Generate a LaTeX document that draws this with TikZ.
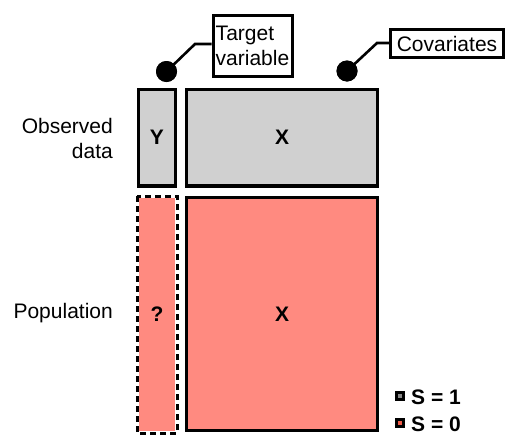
\documentclass[tikz,border=0pt]{standalone}
\usepackage{fontspec}
\setmainfont{Liberation Sans}
\definecolor{obsgray}{RGB}{208,208,208}
\definecolor{popred}{RGB}{255,138,128}
\definecolor{leggray}{RGB}{136,136,136}
\definecolor{legred}{RGB}{240,90,70}
\begin{document}
\begin{tikzpicture}[x=1pt,y=-1pt,
  font=\fontsize{21}{25}\selectfont,
  block/.style={draw=black, line width=3.3pt, inner sep=0pt, font=\fontsize{21}{25}\selectfont\bfseries},
  obsblock/.style={block, fill=obsgray},
  popblock/.style={block, fill=popred},
  callout/.style={draw=black, line width=3pt, inner sep=1pt, align=left},
  dotmark/.style={circle, fill=black, inner sep=0pt, minimum size=21pt},
  leader/.style={line width=2.6pt},
  legsq/.style={draw=black, line width=3pt, minimum size=7pt, inner sep=0pt},
  legtext/.style={anchor=west, inner sep=0pt, font=\fontsize{21}{25}\selectfont\bfseries},
  rowlabel/.style={anchor=east, inner sep=0pt, align=right}
]
\useasboundingbox (0,0) rectangle (518,447);

% observed data
\node[obsblock, minimum width=36.7pt, minimum height=96.7pt] (y) at (157,137.5) {Y};
\node[obsblock, minimum width=190.7pt, minimum height=96.7pt] (x1) at (282,137.5) {X};

% population
\node[popblock, draw=none, minimum width=36.7pt, minimum height=233.7pt] (q) at (157,314.5) {?};
\draw[line width=3pt, dash pattern=on 6pt off 4pt] (q.north west) rectangle (q.south east);
\node[popblock, minimum width=190.7pt, minimum height=232.7pt] (x2) at (282,314) {X};

% row labels
\node[rowlabel] (obs) at (113,138) {Observed\\data};
\node[rowlabel, anchor=base east] (pop) at (113,318) {Population};

% callouts
\node[callout, minimum width=79pt, minimum height=61pt] (tv) at (252.5,46) {Target\\variable};
\node[callout, minimum width=113pt, minimum height=28pt] (cov) at (447,43.5) {Covariates};

\node[dotmark] (d1) at (166.5,71.5) {};
\node[dotmark] (d2) at (347,71) {};
\coordinate (k1) at (195,44);
\coordinate (k2) at (377,43);
\draw[leader] (d1.center) -- (k1) -- (k1 -| tv.west);
\draw[leader] (d2.center) -- (k2) -- (k2 -| cov.west);
\node[dotmark] at (d1) {};
\node[dotmark] at (d2) {};

% legend
\node[legsq, fill=leggray] (l1) at (400,396) {};
\node[legsq, fill=legred] (l2) at (400,423) {};
\node[legtext] (t1) at (411,397) {S = 1};
\node[legtext] (t2) at (411,424) {S = 0};
\end{tikzpicture}
\end{document}
